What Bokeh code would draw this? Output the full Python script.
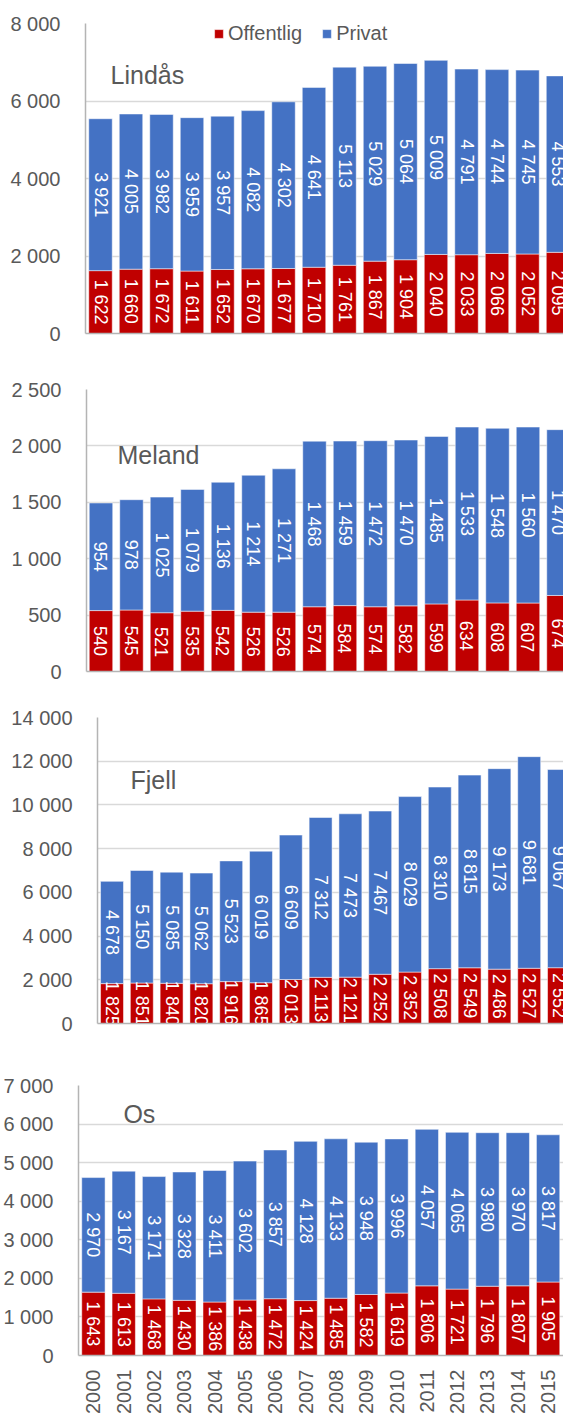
import math
from bokeh.plotting import figure
from bokeh.models import (ColumnDataSource, Range1d, FixedTicker, CustomJSTickFormatter,
                          Label, Legend, LegendItem)
from bokeh.embed import file_html
from bokeh.resources import INLINE
from bokeh.core.properties import value

years = list(range(2000, 2016))

lindas_off = [1622, 1660, 1672, 1611, 1652, 1670, 1677, 1710, 1761, 1867, 1904, 2040, 2033, 2066, 2052, 2095]
lindas_priv = [3921, 4005, 3982, 3959, 3957, 4082, 4302, 4641, 5113, 5029, 5064, 5009, 4791, 4744, 4745, 4553]

meland_off = [540, 545, 521, 535, 542, 526, 526, 574, 584, 574, 582, 599, 634, 608, 607, 674]
meland_priv = [954, 978, 1025, 1079, 1136, 1214, 1271, 1468, 1459, 1472, 1470, 1485, 1533, 1548, 1560, 1470]

fjell_off = [1825, 1851, 1840, 1820, 1916, 1865, 2013, 2113, 2121, 2252, 2352, 2508, 2549, 2486, 2527, 2552]
fjell_priv = [4678, 5150, 5085, 5062, 5523, 6019, 6609, 7312, 7473, 7467, 8029, 8310, 8815, 9173, 9681, 9067]

os_off = [1643, 1613, 1468, 1430, 1386, 1438, 1472, 1424, 1485, 1582, 1619, 1806, 1721, 1796, 1807, 1905]
os_priv = [2970, 3167, 3171, 3328, 3411, 3602, 3857, 4128, 4133, 3948, 3996, 4057, 4065, 3980, 3970, 3817]

series_names = ["Offentlig", "Privat"]

RED = "#C00000"
BLUE = "#4472C4"
TXT = "#595959"
FONT = "Liberation Sans"


def fmt(v):
    return f"{v:,}".replace(",", " ")


def make_panel(name, off, priv, ymax, ystep, left, top, bottom, height,
               x0, x1, name_x, name_y, show_years=False, legend_loc=None):
    p = figure(width=563, height=height, x_range=Range1d(x0, x1), y_range=Range1d(0, ymax),
               output_backend="svg", toolbar_location=None,
               min_border_left=left, min_border_right=0,
               min_border_top=top, min_border_bottom=bottom)
    p.outline_line_color = None
    p.background_fill_color = "white"
    p.xgrid.grid_line_color = None
    p.ygrid.grid_line_color = "#d9d9d9"
    p.ygrid.grid_line_width = 1.5

    p.yaxis.ticker = FixedTicker(ticks=list(range(0, ymax + 1, ystep)))
    p.yaxis.formatter = CustomJSTickFormatter(
        code="return tick.toFixed(0).replace(/\\B(?=(\\d{3})+(?!\\d))/g, ' ');")
    p.yaxis.major_tick_line_color = None
    p.yaxis.minor_tick_line_color = None
    p.yaxis.axis_line_color = "#b4b4b4"
    p.yaxis.axis_line_width = 1.5
    p.yaxis.major_label_text_font = FONT
    p.yaxis.major_label_text_font_size = "20px"
    p.yaxis.major_label_text_color = TXT
    p.yaxis.major_label_standoff = 19

    p.xaxis.axis_line_color = "#b4b4b4"
    p.xaxis.axis_line_width = 1.5
    p.xaxis.major_tick_line_color = None
    p.xaxis.minor_tick_line_color = None
    if show_years:
        p.xaxis.ticker = FixedTicker(ticks=years)
        p.xaxis.major_label_orientation = math.pi / 2
        p.xaxis.major_label_standoff = 8
        p.xaxis.major_label_text_font = FONT
        p.xaxis.major_label_text_font_size = "20px"
        p.xaxis.major_label_text_color = TXT
    else:
        p.xaxis.ticker = FixedTicker(ticks=[])
        p.xaxis.major_label_text_font_size = "0px"

    src = ColumnDataSource(dict(
        x=years,
        off=off,
        top=[a + b for a, b in zip(off, priv)],
        off_mid=[a / 2 for a in off],
        priv_mid=[a + b / 2 for a, b in zip(off, priv)],
        off_lab=[fmt(a) for a in off],
        priv_lab=[fmt(b) for b in priv],
    ))
    r_off = p.vbar(x="x", bottom=0, top="off", width=0.77, source=src,
                   fill_color=RED, line_color="white", line_alpha=0.5, line_width=1)
    r_priv = p.vbar(x="x", bottom="off", top="top", width=0.77, source=src,
                    fill_color=BLUE, line_color="white", line_alpha=0.5, line_width=1)
    for col_y, col_t in (("off_mid", "off_lab"), ("priv_mid", "priv_lab")):
        p.text(x="x", y=col_y, text=col_t, source=src, angle=-math.pi / 2,
               text_align="center", text_baseline="middle", text_color="white",
               text_font=value(FONT), text_font_size="18px")

    p.add_layout(Label(x=name_x, y=name_y, text=name, text_font=FONT, text_font_size="25px",
                       text_color=TXT, text_baseline="middle", text_align="left"))

    if legend_loc is not None:
        lg = Legend(items=[LegendItem(label=series_names[0], renderers=[r_off]),
                           LegendItem(label=series_names[1], renderers=[r_priv])],
                    orientation="horizontal", location=legend_loc,
                    background_fill_alpha=0, border_line_color=None,
                    padding=0, margin=0, spacing=19, label_standoff=4,
                    glyph_width=11, glyph_height=11,
                    label_text_font=FONT, label_text_font_size="20px",
                    label_text_color=TXT)
        p.add_layout(lg)
    return p


p1 = make_panel("Lindås", lindas_off, lindas_priv, 8000, 2000, left=85, top=23, bottom=27,
                height=360, x0=1999.508, x1=2015.18, name_x=2000.33, name_y=6680,
                legend_loc=(128, 288))
p2 = make_panel("Meland", meland_off, meland_priv, 2500, 500, left=86, top=29, bottom=19,
                height=330, x0=1999.525, x1=2015.164, name_x=2000.54, name_y=1915)
p3 = make_panel("Fjell", fjell_off, fjell_priv, 14000, 2000, left=97, top=27, bottom=17,
                height=350, x0=1999.513, x1=2015.151, name_x=2000.62, name_y=11118)
p4 = make_panel("Os", os_off, os_priv, 7000, 1000, left=75, top=45, bottom=61,
                height=376, x0=1999.508, x1=2015.508, name_x=2000.99, name_y=6274,
                show_years=True)

open("out.html", "w").write(file_html([p1, p2, p3, p4], INLINE))
